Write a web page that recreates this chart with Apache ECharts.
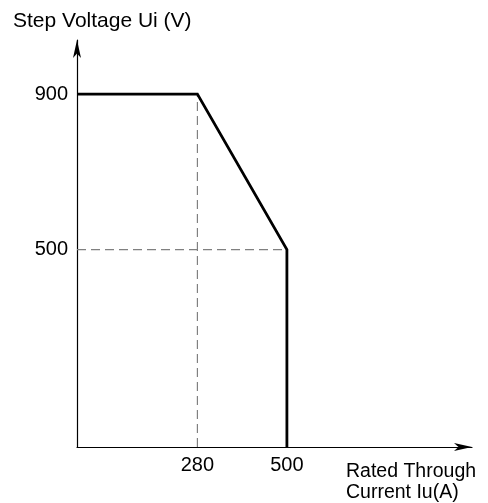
<!DOCTYPE html>
<html>
<head>
<meta charset="utf-8">
<script src="https://cdn.jsdelivr.net/npm/echarts@6/dist/echarts.min.js"></script>
<style>html,body{margin:0;padding:0;background:#fff}#c{width:488px;height:503px}</style>
</head>
<body>
<div id="c"></div>
<script>
// Data
var xRange = [-16, 955];
var yRange = [-8, 1039];
var xTickLabels = [280, 500];
var yTickLabels = [500, 900];
var curveX = [-16, 280, 500, 500];
var curveY = [900, 900, 500, -8];
var guide280X = [280, 280];
var guide280Y = [-8, 900];
var guide500X = [-16, 500];
var guide500Y = [500, 500];
var yAxisTitle = 'Step Voltage Ui (V)';
var xAxisTitle = 'Rated Through\nCurrent Iu(A)';

function pairs(xs, ys) { return xs.map(function (x, i) { return [x, ys[i]]; }); }

var font = 'Liberation Sans, Arial, sans-serif';
var chart = echarts.init(document.getElementById('c'), null, { renderer: 'canvas' });
chart.setOption({
  animation: false,
  backgroundColor: '#fff',
  title: [
    { text: yAxisTitle, left: 8, top: 6, textStyle: { fontFamily: font, fontSize: 21, fontWeight: 'normal', color: '#000' } },
    { text: xAxisTitle, left: 341, top: 456, textStyle: { fontFamily: font, fontSize: 19.5, fontWeight: 'normal', color: '#000', lineHeight: 21 } }
  ],
  grid: { left: 77, right: 16, top: 40, bottom: 56 },
  xAxis: {
    type: 'value', min: xRange[0], max: xRange[1],
    axisLine: { show: true, onZero: false, symbol: ['none', 'arrow'], symbolSize: [6, 18], lineStyle: { color: '#000', width: 1.2 } },
    axisTick: { show: false },
    splitLine: { show: false },
    axisLabel: { customValues: xTickLabels, margin: 8, fontFamily: font, fontSize: 20, color: '#000' }
  },
  yAxis: {
    type: 'value', min: yRange[0], max: yRange[1],
    axisLine: { show: true, onZero: false, symbol: ['none', 'arrow'], symbolSize: [6, 18], lineStyle: { color: '#000', width: 1.2 } },
    axisTick: { show: false },
    splitLine: { show: false },
    axisLabel: { customValues: yTickLabels, margin: 9, fontFamily: font, fontSize: 20, color: '#000' }
  },
  series: [
    { type: 'line', data: pairs(guide280X, guide280Y), symbol: 'none', silent: true,
      lineStyle: { color: '#808080', width: 1.2, type: [9, 5] } },
    { type: 'line', data: pairs(guide500X, guide500Y), symbol: 'none', silent: true,
      lineStyle: { color: '#808080', width: 1.2, type: [9, 5] } },
    { type: 'line', data: pairs(curveX, curveY), symbol: 'none', silent: true,
      lineStyle: { color: '#000', width: 2.8, join: 'miter' } }
  ]
});
</script>
</body>
</html>
